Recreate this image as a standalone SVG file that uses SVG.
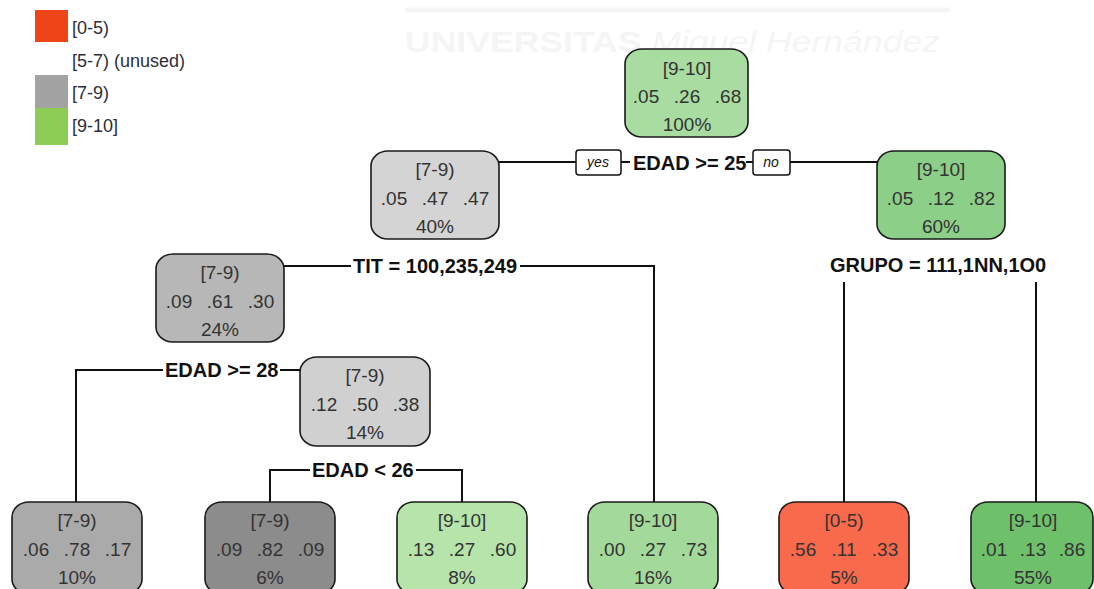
<svg xmlns="http://www.w3.org/2000/svg" width="1094" height="589" viewBox="0 0 1094 589">
  <style>
    .box { stroke: #1a1a1a; stroke-width: 1.6; }
    .nt { font-family: "Liberation Sans", Arial, sans-serif; font-size: 19px; fill: #333; text-anchor: middle; }
    .split { font-family: "Liberation Sans", Arial, sans-serif; font-size: 20px; font-weight: bold; fill: #111; }
    .edge { fill: none; stroke: #111; stroke-width: 2; }
    .tag { fill: #fff; stroke: #111; stroke-width: 1.5; }
    .tagt { font-family: "Liberation Sans", Arial, sans-serif; font-size: 14px; font-style: italic; fill: #111; text-anchor: middle; }
    .leg { font-family: "Liberation Sans", Arial, sans-serif; font-size: 18px; fill: #2e2e38; }
    .wm { font-family: "Liberation Sans", Arial, sans-serif; font-size: 30px; fill: #f5f5f5; }
  </style>
  <rect width="1094" height="589" fill="#ffffff"/>

  <!-- faint background watermark -->
  <g id="watermark">
    <line x1="405" y1="10" x2="950" y2="10" stroke="#f5f5f5" stroke-width="5"/>
    <text class="wm" x="405" y="52" textLength="535" lengthAdjust="spacingAndGlyphs"><tspan font-weight="bold">UNIVERSITAS </tspan><tspan font-style="italic">Miguel Hernández</tspan></text>
  </g>

  <!-- legend -->
  <g id="legend">
    <rect x="35" y="10" width="33" height="32" fill="#ee4518"/>
    <text class="leg" x="72" y="34">[0-5)</text>
    <text class="leg" x="72" y="67">[5-7) (unused)</text>
    <rect x="35" y="75" width="33" height="33" fill="#a3a3a3"/>
    <text class="leg" x="72" y="99">[7-9)</text>
    <rect x="35" y="108" width="33" height="37" fill="#8dcd55"/>
    <text class="leg" x="72" y="132">[9-10]</text>
  </g>

  <!-- connectors and split labels -->
  <g id="connectors">
    <!-- root split -->
    <path class="edge" d="M498 162 H576 M621 162 H630 M746 162 H753 M790 162 H877"/>
    <rect class="tag" x="576" y="150" width="45" height="25" rx="3"/>
    <text class="tagt" x="598" y="167">yes</text>
    <rect class="tag" x="753" y="150" width="37" height="25" rx="3"/>
    <text class="tagt" x="771" y="167">no</text>
    <text class="split" x="633" y="170">EDAD &gt;= 25</text>

    <!-- node 40% split -->
    <path class="edge" d="M284 266 H351 M520 266 H654 V502"/>
    <text class="split" x="353" y="273">TIT = 100,235,249</text>

    <!-- node 60% split -->
    <text class="split" x="830" y="272">GRUPO = 111,1NN,1O0</text>
    <path class="edge" d="M844 282 V502 M1036 282 V502"/>

    <!-- node 24% split -->
    <path class="edge" d="M76 502 V370 H163 M280 370 H300"/>
    <text class="split" x="165" y="377">EDAD &gt;= 28</text>

    <!-- node 14% split -->
    <path class="edge" d="M270 502 V470 H310 M416 470 H462 V502"/>
    <text class="split" x="312" y="477">EDAD &lt; 26</text>
  </g>

  <!-- internal nodes -->
  <g id="n1">
    <rect class="box" x="625" y="49" width="123" height="88" rx="17" ry="15" fill="#a8dca0"/>
    <text class="nt" x="687" y="75">[9-10]</text>
    <text class="nt" y="103"><tspan x="646">.05</tspan><tspan x="687">.26</tspan><tspan x="728">.68</tspan></text>
    <text class="nt" x="687" y="131">100%</text>
  </g>
  <g id="n2">
    <rect class="box" x="371" y="151" width="128" height="88" rx="17" ry="15" fill="#d4d4d4"/>
    <text class="nt" x="435" y="176">[7-9)</text>
    <text class="nt" y="205"><tspan x="394">.05</tspan><tspan x="435">.47</tspan><tspan x="476">.47</tspan></text>
    <text class="nt" x="435" y="233">40%</text>
  </g>
  <g id="n3">
    <rect class="box" x="877" y="151" width="128" height="88" rx="17" ry="15" fill="#8ccf88"/>
    <text class="nt" x="941" y="176">[9-10]</text>
    <text class="nt" y="205"><tspan x="900">.05</tspan><tspan x="941">.12</tspan><tspan x="982">.82</tspan></text>
    <text class="nt" x="941" y="233">60%</text>
  </g>
  <g id="n4">
    <rect class="box" x="156" y="254" width="128" height="88" rx="17" ry="15" fill="#b7b7b7"/>
    <text class="nt" x="220" y="279">[7-9)</text>
    <text class="nt" y="308"><tspan x="179">.09</tspan><tspan x="220">.61</tspan><tspan x="261">.30</tspan></text>
    <text class="nt" x="220" y="336">24%</text>
  </g>
  <g id="n5">
    <rect class="box" x="300" y="357" width="130" height="89" rx="17" ry="15" fill="#d0d0d0"/>
    <text class="nt" x="365" y="382">[7-9)</text>
    <text class="nt" y="411"><tspan x="324">.12</tspan><tspan x="365">.50</tspan><tspan x="406">.38</tspan></text>
    <text class="nt" x="365" y="439">14%</text>
  </g>

  <!-- leaves -->
  <g id="leaf1">
    <rect class="box" x="12" y="502" width="130" height="92" rx="17" ry="15" fill="#aaaaaa"/>
    <text class="nt" x="77" y="527">[7-9)</text>
    <text class="nt" y="556"><tspan x="36">.06</tspan><tspan x="77">.78</tspan><tspan x="118">.17</tspan></text>
    <text class="nt" x="77" y="584">10%</text>
  </g>
  <g id="leaf2">
    <rect class="box" x="205" y="502" width="130" height="92" rx="17" ry="15" fill="#8c8c8c"/>
    <text class="nt" x="270" y="527">[7-9)</text>
    <text class="nt" y="556"><tspan x="229">.09</tspan><tspan x="270">.82</tspan><tspan x="311">.09</tspan></text>
    <text class="nt" x="270" y="584">6%</text>
  </g>
  <g id="leaf3">
    <rect class="box" x="397" y="502" width="130" height="92" rx="17" ry="15" fill="#b6e4ab"/>
    <text class="nt" x="462" y="527">[9-10]</text>
    <text class="nt" y="556"><tspan x="421">.13</tspan><tspan x="462">.27</tspan><tspan x="503">.60</tspan></text>
    <text class="nt" x="462" y="584">8%</text>
  </g>
  <g id="leaf4">
    <rect class="box" x="588" y="502" width="130" height="92" rx="17" ry="15" fill="#a3d99a"/>
    <text class="nt" x="653" y="527">[9-10]</text>
    <text class="nt" y="556"><tspan x="612">.00</tspan><tspan x="653">.27</tspan><tspan x="694">.73</tspan></text>
    <text class="nt" x="653" y="584">16%</text>
  </g>
  <g id="leaf5">
    <rect class="box" x="779" y="502" width="130" height="92" rx="17" ry="15" fill="#f9694c"/>
    <text class="nt" x="844" y="527">[0-5)</text>
    <text class="nt" y="556"><tspan x="803">.56</tspan><tspan x="844">.11</tspan><tspan x="885">.33</tspan></text>
    <text class="nt" x="844" y="584">5%</text>
  </g>
  <g id="leaf6">
    <rect class="box" x="971" y="502" width="122" height="92" rx="17" ry="15" fill="#6fc06b"/>
    <text class="nt" x="1033" y="527">[9-10]</text>
    <text class="nt" y="556"><tspan x="994">.01</tspan><tspan x="1033">.13</tspan><tspan x="1072">.86</tspan></text>
    <text class="nt" x="1033" y="584">55%</text>
  </g>
</svg>
